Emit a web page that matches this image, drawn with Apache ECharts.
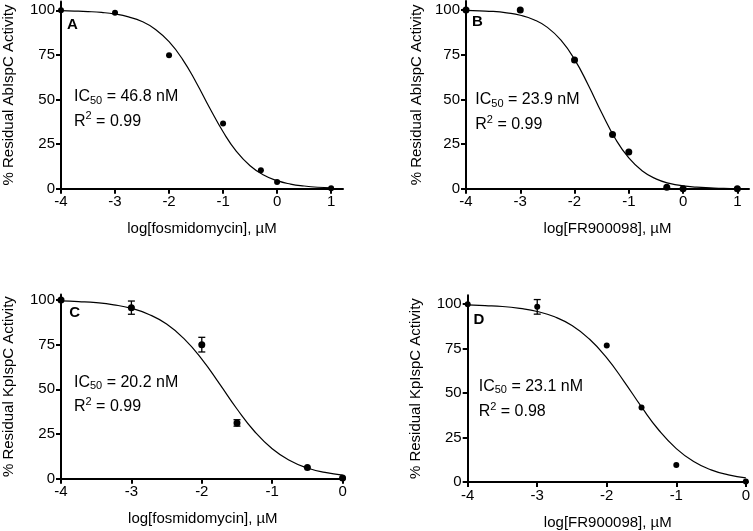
<!DOCTYPE html>
<html>
<head>
<meta charset="utf-8">
<script src="https://cdn.jsdelivr.net/npm/echarts@6/dist/echarts.min.js"></script>
<style>
  html, body { margin: 0; padding: 0; background: #fff; }
  #chart { width: 753px; height: 531px; }
</style>
</head>
<body>
<div id="chart"></div>
<script>
// ---------- DATA ----------
const ticksXAB = [-4, -3, -2, -1, 0, 1];
const ticksXCD = [-4, -3, -2, -1, 0];
const ticksY = [0, 25, 50, 75, 100];

// Panel A: AbIspC + fosmidomycin
const aX = [-4, -3, -2, -1, -0.3, 0, 1];
const aY = [100, 98.6, 74.8, 36.6, 10.3, 3.8, 0.2];
// Panel B: AbIspC + FR900098
const bX = [-4, -3, -2, -1.3, -1, -0.3, 0, 1];
const bY = [100, 100, 72.1, 30.3, 20.6, 0.8, 0, 0];
// Panel C: KpIspC + fosmidomycin
const cX = [-4, -3, -2, -1.5, -0.5, 0];
const cY = [100, 95.7, 75.0, 31.2, 6.2, 0.4];
const cErr = [[-3, 95.7, 3.7], [-2, 75.0, 4.1], [-1.5, 31.2, 1.8]];
// Panel D: KpIspC + FR900098
const dX = [-4, -3, -2, -1.5, -1, 0];
const dY = [100, 98.5, 76.7, 41.9, 9.5, 0.3];
const dErr = [[-3, 98.5, 4.1]];

// Fitted curves
const curveXAB = [-4, -3.75, -3.5, -3.25, -3, -2.75, -2.5, -2.25, -2, -1.75, -1.5, -1.25, -1, -0.75, -0.5, -0.25, 0, 0.25, 0.5, 0.75, 1];
const curveA = [99.8, 99.6, 99.3, 98.8, 97.9, 96.3, 93.7, 89.3, 82.4, 72.5, 59.7, 45.4, 31.9, 20.8, 12.9, 7.7, 4.5, 2.6, 1.5, 0.8, 0.5];
const curveB = [99.8, 99.5, 99.2, 98.4, 97.1, 94.6, 90.3, 83.1, 72.4, 58.2, 42.5, 28.1, 17.2, 9.9, 5.5, 3.0, 1.6, 0.9, 0.5, 0.2, 0.1];
const curveXCD = [-4, -3.75, -3.5, -3.25, -3, -2.75, -2.5, -2.25, -2, -1.75, -1.5, -1.25, -1, -0.75, -0.5, -0.25, 0];
const curveC = [99.5, 99.1, 98.5, 97.3, 95.3, 91.9, 86.5, 78.2, 66.9, 53.2, 39.0, 26.4, 16.8, 10.2, 6.0, 3.5, 2.0];
const curveD = [99.6, 99.2, 98.7, 97.6, 95.9, 92.9, 88.0, 80.4, 69.8, 56.5, 42.2, 29.1, 18.8, 11.5, 6.8, 4.0, 2.3];

const xNames = ['log[fosmidomycin], \u00b5M', 'log[FR900098], \u00b5M', 'log[fosmidomycin], \u00b5M', 'log[FR900098], \u00b5M'];
const yNames = ['% Residual AbIspC Activity', '% Residual AbIspC Activity', '% Residual KpIspC Activity', '% Residual KpIspC Activity'];
const letters = ['A', 'B', 'C', 'D'];
const ic50Texts = ['46.8 nM', '23.9 nM', '20.2 nM', '23.1 nM'];
const r2Texts = ['0.99', '0.99', '0.99', '0.98'];

// ---------- LAYOUT ----------
const FONT = "'Liberation Sans', Arial, Helvetica, sans-serif";
const panels = [
  { grid: { left: 61, top: 1.4, width: 282, height: 187.3 }, xMax: 1.22, yMax: 105, ticksX: ticksXAB,
    px: aX, py: aY, cx: curveXAB, cy: curveA, err: [], size: 6, nameGapY: 45,
    ic: [74, 96.5], r2: [74, 121.7], letter: [72.5, 24.7] },
  { grid: { left: 466, top: 1.1, width: 283, height: 187.6 }, xMax: 1.215, yMax: 105, ticksX: ticksXAB,
    px: bX, py: bY, cx: curveXAB, cy: curveB, err: [], size: 7, nameGapY: 42,
    ic: [475.3, 99.7], r2: [475.3, 125], letter: [477.3, 21.7] },
  { grid: { left: 61, top: 294.6, width: 283.7, height: 184.1 }, xMax: 0.03, yMax: 103, ticksX: ticksXCD,
    px: cX, py: cY, cx: curveXCD, cy: curveC, err: cErr, size: 7, nameGapY: 45,
    ic: [74, 382.2], r2: [74, 407], letter: [74.7, 313.3] },
  { grid: { left: 467.7, top: 295.3, width: 283.3, height: 188 }, xMax: 0.03, yMax: 105, ticksX: ticksXCD,
    px: dX, py: dY, cx: curveXCD, cy: curveD, err: dErr, size: 6, nameGapY: 44,
    ic: [478.7, 386.3], r2: [478.7, 412], letter: [478.8, 320.3] }
];

const zip = (xs, ys) => xs.map((x, i) => [x, ys[i]]);

const richSub = {
  a: { fontSize: 16, lineHeight: 19, fontFamily: FONT, color: '#000' },
  s: { fontSize: 11, lineHeight: 11, verticalAlign: 'bottom', fontFamily: FONT, color: '#000' }
};
const richSup = {
  a: { fontSize: 16, lineHeight: 22, fontFamily: FONT, color: '#000' },
  p: { fontSize: 11, lineHeight: 11, verticalAlign: 'top', fontFamily: FONT, color: '#000' }
};

const grids = [], xAxes = [], yAxes = [], series = [], graphics = [];
panels.forEach((p, i) => {
  grids.push(Object.assign({ containLabel: false }, p.grid));
  xAxes.push({
    type: 'value', gridIndex: i, min: -4, max: p.xMax,
    name: xNames[i], nameLocation: 'middle', nameGap: 33,
    nameTextStyle: { color: '#000', fontSize: 15, fontFamily: FONT },
    axisLine: { show: true, onZero: false, lineStyle: { color: '#000', width: 2 } },
    axisTick: { show: true, length: 5, customValues: p.ticksX, lineStyle: { color: '#000', width: 2 } },
    axisLabel: { customValues: p.ticksX, color: '#000', fontSize: 15, fontFamily: FONT, margin: 6 },
    splitLine: { show: false }
  });
  yAxes.push({
    type: 'value', gridIndex: i, min: 0, max: p.yMax,
    name: yNames[i], nameLocation: 'middle', nameGap: p.nameGapY, nameRotate: 90,
    nameTextStyle: { color: '#000', fontSize: 15, fontFamily: FONT },
    axisLine: { show: true, onZero: false, lineStyle: { color: '#000', width: 2 } },
    axisTick: { show: true, length: 5, customValues: ticksY, lineStyle: { color: '#000', width: 2 } },
    axisLabel: { customValues: ticksY, color: '#000', fontSize: 15, fontFamily: FONT, margin: 6 },
    splitLine: { show: false }
  });
  series.push({
    type: 'line', xAxisIndex: i, yAxisIndex: i, data: zip(p.cx, p.cy),
    showSymbol: false, smooth: 0.5, silent: true, z: 2,
    lineStyle: { color: '#000', width: 1.2 }
  });
  if (p.err.length) {
    series.push({
      type: 'custom', xAxisIndex: i, yAxisIndex: i, data: p.err, clip: false, z: 3, silent: true,
      encode: { x: 0, y: 1 },
      renderItem: function (params, api) {
        const x = api.value(0), y = api.value(1), e = api.value(2);
        const top = api.coord([x, y + e]);
        const bot = api.coord([x, y - e]);
        const w = 3.5;
        const st = { stroke: '#000', lineWidth: 1.3 };
        return {
          type: 'group',
          children: [
            { type: 'line', shape: { x1: top[0], y1: top[1], x2: bot[0], y2: bot[1] }, style: st },
            { type: 'line', shape: { x1: top[0] - w, y1: top[1], x2: top[0] + w, y2: top[1] }, style: st },
            { type: 'line', shape: { x1: bot[0] - w, y1: bot[1], x2: bot[0] + w, y2: bot[1] }, style: st }
          ]
        };
      }
    });
  }
  series.push({
    type: 'scatter', xAxisIndex: i, yAxisIndex: i, data: zip(p.px, p.py),
    symbol: 'circle', symbolSize: p.size, clip: false, z: 5, silent: true,
    itemStyle: { color: '#000', opacity: 1 }
  });

  graphics.push({
    type: 'text', x: p.ic[0], y: p.ic[1], silent: true,
    style: { text: '{a|IC}{s|50}{a| = ' + ic50Texts[i] + '}', rich: richSub, fill: '#000',
             align: 'left', verticalAlign: 'middle', font: '16px ' + FONT }
  });
  graphics.push({
    type: 'text', x: p.r2[0], y: p.r2[1], silent: true,
    style: { text: '{a|R}{p|2}{a| = ' + r2Texts[i] + '}', rich: richSup, fill: '#000',
             align: 'left', verticalAlign: 'middle', font: '16px ' + FONT }
  });
  graphics.push({
    type: 'text', x: p.letter[0], y: p.letter[1], silent: true,
    style: { text: letters[i], fill: '#000', align: 'center', verticalAlign: 'middle',
             font: 'bold 15px ' + FONT }
  });
});

const chart = echarts.init(document.getElementById('chart'), null, { renderer: 'canvas' });
chart.setOption({
  animation: false,
  backgroundColor: '#fff',
  grid: grids,
  xAxis: xAxes,
  yAxis: yAxes,
  series: series,
  graphic: graphics
});
</script>
</body>
</html>
